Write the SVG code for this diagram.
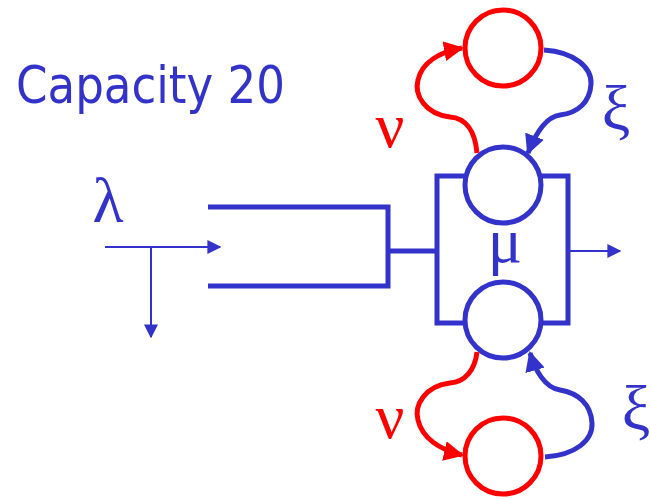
<svg xmlns="http://www.w3.org/2000/svg" width="651" height="499" viewBox="0 0 651 499">
<style>
.b{stroke:#3333CC;fill:none}
.r{stroke:#FF0000;fill:none}
.thick{stroke-width:5}
.thin{stroke-width:2}
.greek{font-family:"Liberation Serif","DejaVu Serif",serif;font-size:64px}
.tb{fill:#3333CC}
.tr{fill:#FF0000}
</style>
<defs>
<marker id="ab" viewBox="0 0 10 10" refX="9" refY="5" markerWidth="4" markerHeight="4" orient="auto" markerUnits="strokeWidth"><path d="M0,0 L10,5 L0,10 z" fill="#3333CC"/></marker>
<marker id="abt" viewBox="0 0 10 10" refX="9" refY="5" markerWidth="7" markerHeight="7" orient="auto" markerUnits="strokeWidth"><path d="M0,0 L10,5 L0,10 z" fill="#3333CC"/></marker>
<marker id="ar" viewBox="0 0 10 10" refX="9" refY="5" markerWidth="4" markerHeight="4" orient="auto" markerUnits="strokeWidth"><path d="M0,0 L10,5 L0,10 z" fill="#FF0000"/></marker>
</defs>
<text x="16" y="103" font-family="'DejaVu Sans',Verdana,sans-serif" font-size="52" textLength="269" lengthAdjust="spacingAndGlyphs" class="tb">Capacity 20</text>
<g id="queue">
<polyline class="b thick" points="208,207 388,207 388,286 208,286"/>
<line class="b thick" x1="388" y1="251" x2="437" y2="251"/>
</g>
<g id="server-box">
<polyline class="b thick" points="465,176 437,176 437,323 465,323"/>
<polyline class="b thick" points="541,176 568,176 568,323 541,323"/>
</g>
<g id="server-top"><circle class="b thick" cx="503" cy="185" r="38"/></g>
<g id="server-bottom"><circle class="b thick" cx="503" cy="320" r="38"/></g>
<g id="vac-top"><circle class="r thick" cx="503" cy="48" r="38"/></g>
<g id="vac-bottom"><circle class="r thick" cx="503" cy="456" r="38"/></g>
<g id="connectors">
<line class="b thin" x1="105" y1="247" x2="220" y2="247" marker-end="url(#abt)"/>
<line class="b thin" x1="151" y1="247" x2="151" y2="337" marker-end="url(#abt)"/>
<line class="b thin" x1="568" y1="251" x2="620" y2="251" marker-end="url(#abt)"/>
<path class="r thick" d="M477,153 C475,130 465,118 450,117 C425,114 414,95 418,80 C422,62 440,52 462,48" marker-end="url(#ar)"/>
<path class="b thick" d="M544,50 C575,52 592,68 591,84 C590,102 578,113 560,115 C545,117 535,135 528,153" marker-end="url(#ab)"/>
<path class="r thick" d="M477,352 C475,370 465,382 450,383 C425,386 414,405 418,420 C422,438 440,450 462,455" marker-end="url(#ar)"/>
<path class="b thick" d="M545,457 C576,455 593,440 592,423 C591,404 578,393 560,390 C545,388 535,370 530,353" marker-end="url(#ab)"/>
</g>
<text x="108" y="222" text-anchor="middle" class="greek tb">λ</text>
<text x="505" y="262" text-anchor="middle" class="greek tb">μ</text>
<text x="390" y="147" text-anchor="middle" class="greek tr">ν</text>
<text x="390" y="438" text-anchor="middle" class="greek tr">ν</text>
<text x="616" y="130" text-anchor="middle" class="greek tb">ξ</text>
<text x="636" y="430" text-anchor="middle" class="greek tb">ξ</text>
</svg>
